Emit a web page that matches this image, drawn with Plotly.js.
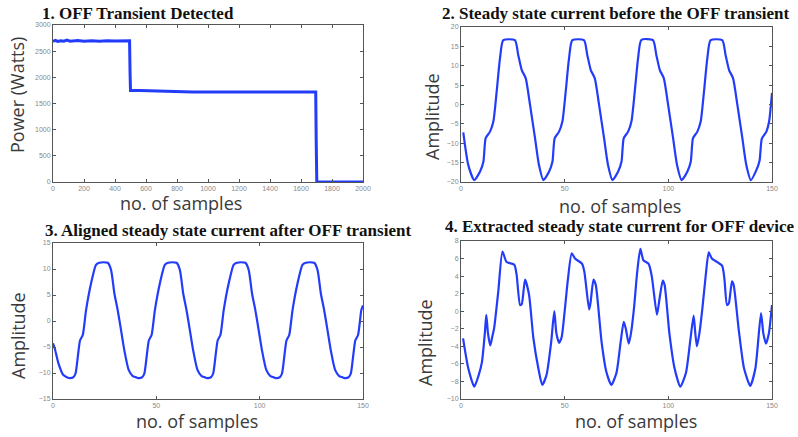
<!DOCTYPE html>
<html>
<head>
<meta charset="utf-8">
<script src="https://cdn.plot.ly/plotly-3.0.1.min.js"></script>
<style>html,body{margin:0;padding:0;background:#fff;}#chart{width:798px;height:437px;}</style>
</head>
<body>
<div id="chart"></div>
<script>
// ---- Panel 1: power (Watts) vs samples ----
const powerX = [0, 15, 30, 50, 70, 90, 110, 130, 160, 200, 250, 300, 350, 400, 450, 494, 497, 500, 560, 620, 700, 760, 900, 1100, 1300, 1500, 1650, 1695, 1698, 1702, 1800, 2000];
const powerY = [2690, 2705, 2685, 2700, 2690, 2710, 2690, 2700, 2705, 2690, 2700, 2690, 2700, 2695, 2700, 2700, 2100, 1750, 1750, 1745, 1740, 1725, 1720, 1720, 1720, 1725, 1720, 1720, 800, 0, 0, 0];

// ---- Panel 2: steady state current before the OFF transient ----
const beforeX = [1.1, 3.5,
  6.4, 9.2, 10.8, 11.9, 14.0, 15.6, 17.2, 18.8, 20.4, 26.0, 27.6, 29.3, 31.2, 33.3, 35.7, 37.6,
  39.7, 42.5, 44.1, 45.2, 47.3, 48.9, 50.5, 52.1, 53.7, 59.3, 60.9, 62.6, 64.5, 66.6, 69.0, 70.9,
  73.0, 75.8, 77.4, 78.5, 80.6, 82.2, 83.8, 85.4, 87.0, 92.6, 94.2, 95.9, 97.8, 99.9, 102.3, 104.2,
  106.4, 109.2, 110.8, 111.9, 114.0, 115.6, 117.2, 118.8, 120.4, 126.0, 127.6, 129.3, 131.2, 133.3, 135.7, 137.6,
  139.8, 142.4, 144.0, 145.1, 147.3, 148.6, 150];
const beforeY = [-7.2, -15.6,
  -19.5, -17.3, -14.8, -8.7, -7, -4.4, 3.3, 11.9, 16.6, 16.6, 12.8, 8.9, 6.8, -0.1, -8.7, -15.6,
  -19.5, -17.3, -14.8, -8.7, -7, -4.4, 3.3, 11.9, 16.6, 16.6, 12.8, 8.9, 6.8, -0.1, -8.7, -15.6,
  -19.5, -17.3, -14.8, -8.7, -7, -4.4, 3.3, 11.9, 16.7, 16.6, 12.8, 8.9, 6.8, -0.1, -8.7, -15.6,
  -19.5, -17.3, -14.8, -8.7, -7, -4.4, 3.3, 11.9, 16.6, 16.6, 12.8, 8.9, 6.8, -0.1, -8.7, -15.6,
  -19.5, -17, -14.5, -8.8, -7, -4.4, 3];

// ---- Panel 3: aligned steady state current after OFF transient ----
const afterX = [0, 0.8, 2.6, 5.0,
  6.7, 8.3, 9.9, 10.9, 12.0, 13.1, 14.4, 16.0, 18.4, 20.8, 22.4, 24.4, 26.5, 28.1, 29.7, 31.3, 32.9, 34.5, 36.6, 38.6,
  40.0, 41.6, 43.2, 44.2, 45.3, 46.4, 47.7, 49.3, 51.7, 54.1, 55.7, 57.7, 59.8, 61.4, 63.0, 64.6, 66.2, 67.8, 69.9, 71.9,
  73.3, 74.9, 76.5, 77.5, 78.6, 79.7, 81.0, 82.6, 85.0, 87.4, 89.0, 91.0, 93.1, 94.7, 96.3, 97.9, 99.5, 101.1, 103.2, 105.2,
  106.6, 108.2, 109.8, 110.8, 111.9, 113.0, 114.3, 115.9, 118.3, 120.7, 122.3, 124.3, 126.4, 128.0, 129.6, 131.2, 132.8, 134.4, 136.5, 138.5,
  139.9, 141.5, 143.1, 144.1, 145.2, 146.3, 147.6, 149.2, 150];
const afterY = [-4.3, -5.2, -8.1, -10.4,
  -10.8, -11.0, -10.8, -10.1, -6.9, -3.7, -2.7, 2.1, 7.2, 10.8, 11.2, 11.3, 11.2, 9.8, 5.3, 2.1, -1.7, -5.6, -9.4, -10.6,
  -10.8, -11.0, -10.8, -10.1, -6.9, -3.7, -2.7, 2.1, 7.2, 10.8, 11.2, 11.3, 11.2, 9.8, 5.3, 2.1, -1.7, -5.6, -9.4, -10.6,
  -10.8, -11.0, -10.8, -10.1, -6.9, -3.7, -2.7, 2.1, 7.2, 10.8, 11.2, 11.3, 11.2, 9.8, 5.3, 2.1, -1.7, -5.6, -9.4, -10.6,
  -10.8, -11.0, -10.8, -10.1, -6.9, -3.7, -2.7, 2.1, 7.2, 10.8, 11.2, 11.3, 11.2, 9.8, 5.3, 2.1, -1.7, -5.6, -9.4, -10.6,
  -10.8, -11.0, -10.8, -10.1, -6.9, -3.7, -2.7, 2.1, 3.0];

// ---- Panel 4: extracted steady state current for OFF device ----
const extractX = [1, 3.5, 6.4, 8.5, 10.1, 11.5, 12.2, 13, 14.1, 15, 16, 18, 20, 22, 25.7, 26.8, 28.5, 29.3, 30.9, 32.8, 34.9, 37.3, 39.2,
  41.3, 43.5, 45, 46, 47.3, 48.5, 50, 51.5, 53.4, 55, 58.4, 59.5, 61.8, 62.5, 63.9, 65, 67.8, 70, 72.5,
  75, 77, 78.5, 79.5, 80.9, 82, 83.5, 85, 86.5, 88, 90.5, 92, 94.5, 95.5, 97.3, 98.2, 100.5, 103, 105.8,
  108.5, 110.5, 112.2, 113, 113.8, 115, 116.5, 118, 119.5, 121, 125.9, 127, 128.3, 129.2, 130.7, 131.5, 134, 136.5, 139.5,
  142, 144.7, 145.8, 147.1, 148.5, 150];
const extractY = [-3.1, -6.5, -8.6, -7.3, -5.8, -2.5, -0.4, -2.5, -3.9, -3, -1.9, 2.3, 6.8, 5.6, 5.3, 4.2, 0.7, 0.8, 3.6, 1.9, -3.05, -6.5, -8.4,
  -7.2, -3.5, 0, -2.5, -3.6, -3.0, 0, 3.5, 6.6, 6, 5.4, 4.5, 0.2, 1, 3.6, 3, -3.5, -6.8, -8.4,
  -7, -3.5, -1.2, -2, -3.7, -2.5, 0.5, 4.5, 7.1, 5.8, 5.4, 4, -0.4, 1, 3.5, 3, -2.5, -6.5, -8.6,
  -7, -3.5, -0.5, -2.5, -4, -2.5, 0.5, 4, 6.7, 6, 5.2, 3.8, 0.7, 0.9, 3.4, 3, -2.2, -6.5, -8.5,
  -6.5, -0.2, -2.5, -3.7, -2.5, 0.7];

const panelTitles = ["1. OFF Transient Detected", "2. Steady state current before the OFF transient",
  "3. Aligned steady state current after OFF transient", "4. Extracted steady state current for OFF device"];
const xTitle = "no. of samples";
const yTitles = ["Power (Watts)", "Amplitude", "Amplitude", "Amplitude"];

const W = 798, H = 437;
const px = v => v / W;
const py = v => 1 - v / H;
const blue = 'rgb(35,60,250)';

const lineOf = (x, y, xa, ya, w, shape) => ({
  x: x, y: y, xaxis: xa, yaxis: ya, type: 'scatter', mode: 'lines',
  line: {color: blue, width: w, shape: shape, smoothing: 0.6}, hoverinfo: 'skip'
});

const data = [
  lineOf(powerX, powerY, 'x', 'y', 3, 'linear'),
  lineOf(beforeX, beforeY, 'x2', 'y2', 2.2, 'spline'),
  lineOf(afterX, afterY, 'x3', 'y3', 2.2, 'spline'),
  lineOf(extractX, extractY, 'x4', 'y4', 2.2, 'spline')
];

const axBase = {
  showline: true, mirror: 'ticks', linecolor: '#555', linewidth: 1,
  ticks: 'inside', ticklen: 3, tickcolor: '#555', showgrid: false, zeroline: false,
  tickfont: {size: 7, color: '#888', family: 'Liberation Sans'}, fixedrange: true
};
const ax = (o) => Object.assign({}, axBase, o);

const dom = [
  {x: [px(53), px(363)], y: [py(182), py(25)]},
  {x: [px(461), px(772)], y: [py(182), py(27)]},
  {x: [px(53), px(363)], y: [py(399), py(243)]},
  {x: [px(461), px(772)], y: [py(399), py(241)]}
];

const titleFont = {family: 'Liberation Serif', size: 17, color: '#111'};
const axTitleFont = {family: 'Open Sans', size: 18, color: '#3a3a3a'};

const annotations = [
  {text: '<b>' + panelTitles[0] + '</b>', x: px(40), y: py(13), xanchor: 'left', yanchor: 'middle'},
  {text: '<b>' + panelTitles[1] + '</b>', x: px(440), y: py(13), xanchor: 'left', yanchor: 'middle'},
  {text: '<b>' + panelTitles[2] + '</b>', x: px(43), y: py(230), xanchor: 'left', yanchor: 'middle'},
  {text: '<b>' + panelTitles[3] + '</b>', x: px(443), y: py(226), xanchor: 'left', yanchor: 'middle'}
].map(a => Object.assign(a, {xref: 'paper', yref: 'paper', showarrow: false, font: titleFont}));

const axisTitleAnn = [
  {text: xTitle, x: px(181), y: py(203)},
  {text: xTitle, x: px(620), y: py(206)},
  {text: xTitle, x: px(197), y: py(421)},
  {text: xTitle, x: px(636), y: py(421)},
  {text: yTitles[0], x: px(17), y: py(95), textangle: -90},
  {text: yTitles[1], x: px(432), y: py(117), textangle: -90},
  {text: yTitles[2], x: px(18), y: py(336), textangle: -90},
  {text: yTitles[3], x: px(425), y: py(343), textangle: -90}
].map(a => Object.assign(a, {xref: 'paper', yref: 'paper', showarrow: false, xanchor: 'center', yanchor: 'middle', font: axTitleFont}));

const layout = {
  width: W, height: H,
  margin: {l: 0, r: 0, t: 0, b: 0},
  paper_bgcolor: '#fff', plot_bgcolor: '#fff',
  showlegend: false,
  xaxis: ax({domain: dom[0].x, anchor: 'y', range: [0, 2000], dtick: 200}),
  yaxis: ax({domain: dom[0].y, anchor: 'x', range: [0, 3000], dtick: 500}),
  xaxis2: ax({domain: dom[1].x, anchor: 'y2', range: [0, 150], dtick: 50}),
  yaxis2: ax({domain: dom[1].y, anchor: 'x2', range: [-20, 20], dtick: 5}),
  xaxis3: ax({domain: dom[2].x, anchor: 'y3', range: [0, 150], dtick: 50}),
  yaxis3: ax({domain: dom[2].y, anchor: 'x3', range: [-15, 15], dtick: 5}),
  xaxis4: ax({domain: dom[3].x, anchor: 'y4', range: [0, 150], dtick: 50}),
  yaxis4: ax({domain: dom[3].y, anchor: 'x4', range: [-10, 8], dtick: 2}),
  annotations: annotations.concat(axisTitleAnn)
};

Plotly.newPlot('chart', data, layout, {displayModeBar: false, staticPlot: true});
</script>
</body>
</html>
